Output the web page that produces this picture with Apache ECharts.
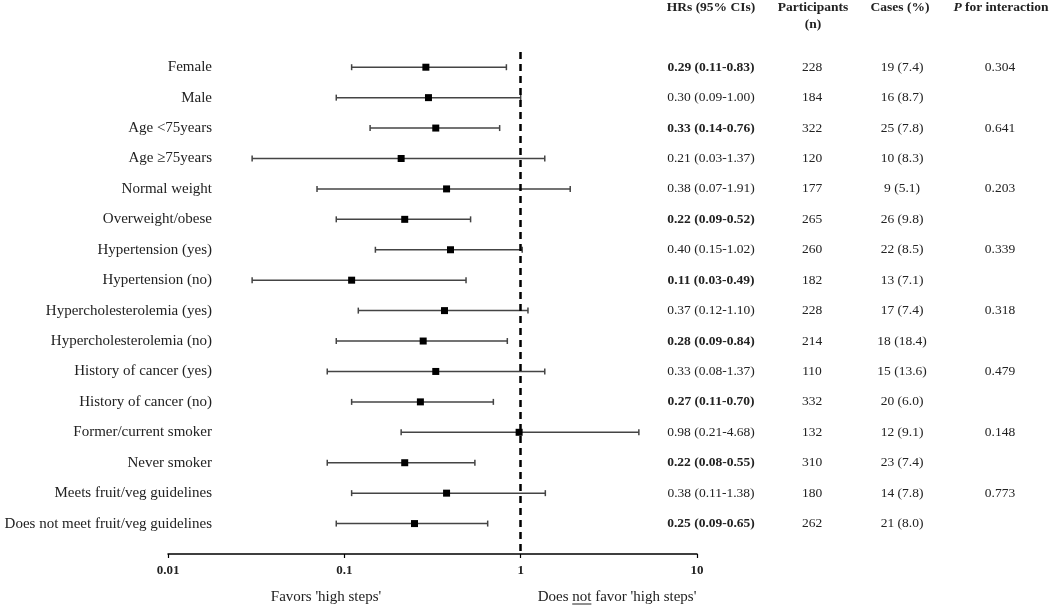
<!DOCTYPE html>
<html>
<head>
<meta charset="utf-8">
<script src="https://cdn.jsdelivr.net/npm/echarts@6/dist/echarts.min.js"></script>
<style>
  html, body { margin: 0; padding: 0; background: #fff; }
  #chart { width: 1056px; height: 608px; }
</style>
</head>
<body>
<div id="chart"></div>
<script>
// subgroup rows, top to bottom
var groups = [
  'Female', 'Male', 'Age <75years', 'Age \u226575years', 'Normal weight',
  'Overweight/obese', 'Hypertension (yes)', 'Hypertension (no)',
  'Hypercholesterolemia (yes)', 'Hypercholesterolemia (no)',
  'History of cancer (yes)', 'History of cancer (no)', 'Former/current smoker',
  'Never smoker', 'Meets fruit/veg guidelines', 'Does not meet fruit/veg guidelines'
];
var hr = [0.29, 0.30, 0.33, 0.21, 0.38, 0.22, 0.40, 0.11, 0.37, 0.28, 0.33, 0.27, 0.98, 0.22, 0.38, 0.25];
var lower = [0.11, 0.09, 0.14, 0.03, 0.07, 0.09, 0.15, 0.03, 0.12, 0.09, 0.08, 0.11, 0.21, 0.08, 0.11, 0.09];
var upper = [0.83, 1.00, 0.76, 1.37, 1.91, 0.52, 1.02, 0.49, 1.10, 0.84, 1.37, 0.70, 4.68, 0.55, 1.38, 0.65];
var participants = [228, 184, 322, 120, 177, 265, 260, 182, 228, 214, 110, 332, 132, 310, 180, 262];
var caseCount = [19, 16, 25, 10, 9, 26, 22, 13, 17, 18, 15, 20, 12, 23, 14, 21];
var casePct = ['7.4', '8.7', '7.8', '8.3', '5.1', '9.8', '8.5', '7.1', '7.4', '18.4', '13.6', '6.0', '9.1', '7.4', '7.8', '8.0'];
var pInteraction = ['0.304', '', '0.641', '', '0.203', '', '0.339', '', '0.318', '', '0.479', '', '0.148', '', '0.773', ''];
var tickLabels = ['0.01', '0.1', '1', '10'];

var serif = '"Liberation Serif", "Times New Roman", serif';
var textColor = '#222';

var chart = echarts.init(document.getElementById('chart'));

function fmt(v) { return v.toFixed(2); }

function rowText(x, y, text, opts) {
  opts = opts || {};
  return {
    type: 'text',
    style: {
      x: x, y: y, text: text,
      fill: textColor,
      font: (opts.bold ? 'bold ' : '') + (opts.size || 13.5) + 'px ' + serif,
      align: opts.align || 'center',
      verticalAlign: 'middle'
    }
  };
}

// underline position for "not" in the right-hand axis caption
var measure = document.createElement('canvas').getContext('2d');
measure.font = '15px ' + serif;
var capLeft = 'Does ', capMid = 'not', capRight = " favor 'high steps'";
var capWidth = measure.measureText(capLeft + capMid + capRight).width;
var capCenter = 617;
var ulStart = capCenter - capWidth / 2 + measure.measureText(capLeft).width;
var ulEnd = ulStart + measure.measureText(capMid).width;

var headFont = 'bold 13.5px ' + serif;

chart.setOption({
  animation: false,
  grid: { left: 168, right: 359, top: 52, bottom: 54 },
  xAxis: {
    type: 'log',
    logBase: 10,
    min: 0.01,
    max: 10,
    splitLine: { show: false },
    axisLine: { show: true, onZero: false, lineStyle: { color: '#000', width: 1.5 } },
    axisTick: { show: true, length: 4, lineStyle: { color: '#000', width: 1.2 } },
    axisLabel: {
      margin: 10,
      color: textColor,
      fontFamily: serif,
      fontWeight: 'bold',
      fontSize: 13,
      formatter: function (v) {
        var idx = Math.round(Math.log10(v)) + 2;
        return tickLabels[idx] !== undefined ? tickLabels[idx] : '';
      }
    }
  },
  yAxis: {
    type: 'value',
    inverse: true,
    min: -0.5,
    max: 16,
    show: false
  },
  graphic: [
    { type: 'text', x: 711, y: 8, style: { text: 'HRs (95% CIs)', font: headFont, fill: textColor, align: 'center', verticalAlign: 'middle' } },
    { type: 'text', x: 813, y: 8, style: { text: 'Participants', font: headFont, fill: textColor, align: 'center', verticalAlign: 'middle' } },
    { type: 'text', x: 813, y: 25, style: { text: '(n)', font: headFont, fill: textColor, align: 'center', verticalAlign: 'middle' } },
    { type: 'text', x: 900, y: 8, style: { text: 'Cases (%)', font: headFont, fill: textColor, align: 'center', verticalAlign: 'middle' } },
    {
      type: 'text', x: 1001, y: 8,
      style: {
        text: '{p|P} {t|for interaction}',
        align: 'center',
        verticalAlign: 'middle',
        rich: {
          p: { font: 'italic bold 13.5px ' + serif, fill: textColor },
          t: { font: headFont, fill: textColor }
        }
      }
    },
    {
      type: 'text', x: 326, y: 597,
      style: { text: "Favors 'high steps'", font: '15px ' + serif, fill: textColor, align: 'center', verticalAlign: 'middle' }
    },
    {
      type: 'text', x: capCenter, y: 597,
      style: { text: capLeft + capMid + capRight, font: '15px ' + serif, fill: textColor, align: 'center', verticalAlign: 'middle' }
    },
    {
      type: 'line',
      shape: { x1: ulStart, y1: 604, x2: ulEnd, y2: 604 },
      style: { stroke: textColor, lineWidth: 1 }
    }
  ],
  series: [
    {
      type: 'custom',
      name: 'HR',
      clip: false,
      data: groups.map(function (g, i) { return [hr[i], lower[i], upper[i], i]; }),
      encode: { x: [0, 1, 2], y: 3 },
      renderItem: function (params, api) {
        var row = api.value(3);
        var pHr = api.coord([api.value(0), row]);
        var pLo = api.coord([api.value(1), row]);
        var pHi = api.coord([api.value(2), row]);
        var y = pHr[1];
        var stroke = { stroke: '#444', lineWidth: 1.5 };
        return {
          type: 'group',
          children: [
            { type: 'line', shape: { x1: pLo[0], y1: y, x2: pHi[0], y2: y }, style: stroke },
            { type: 'line', shape: { x1: pLo[0], y1: y - 3, x2: pLo[0], y2: y + 3 }, style: stroke },
            { type: 'line', shape: { x1: pHi[0], y1: y - 3, x2: pHi[0], y2: y + 3 }, style: stroke },
            { type: 'rect', shape: { x: pHr[0] - 3.5, y: y - 3.5, width: 7, height: 7 }, style: { fill: '#000' } }
          ]
        };
      },
      markLine: {
        silent: true,
        symbol: 'none',
        label: { show: false },
        lineStyle: { color: '#000', width: 2.5, type: [7, 5] },
        data: [{ xAxis: 1 }]
      },
      z: 3
    },
    {
      type: 'custom',
      name: 'table',
      clip: false,
      silent: true,
      data: groups.map(function (g, i) { return [1, i]; }),
      encode: { x: 0, y: 1 },
      renderItem: function (params, api) {
        var i = params.dataIndex;
        var y = api.coord([1, api.value(1)])[1];
        var sig = upper[i] < 1;
        var hrText = fmt(hr[i]) + ' (' + fmt(lower[i]) + '-' + fmt(upper[i]) + ')';
        return {
          type: 'group',
          children: [
            rowText(212, y, groups[i], { align: 'right', size: 15 }),
            rowText(711, y, hrText, { bold: sig }),
            rowText(812, y, String(participants[i])),
            rowText(902, y, caseCount[i] + ' (' + casePct[i] + ')'),
            rowText(1000, y, pInteraction[i])
          ]
        };
      }
    }
  ]
});
</script>
</body>
</html>
